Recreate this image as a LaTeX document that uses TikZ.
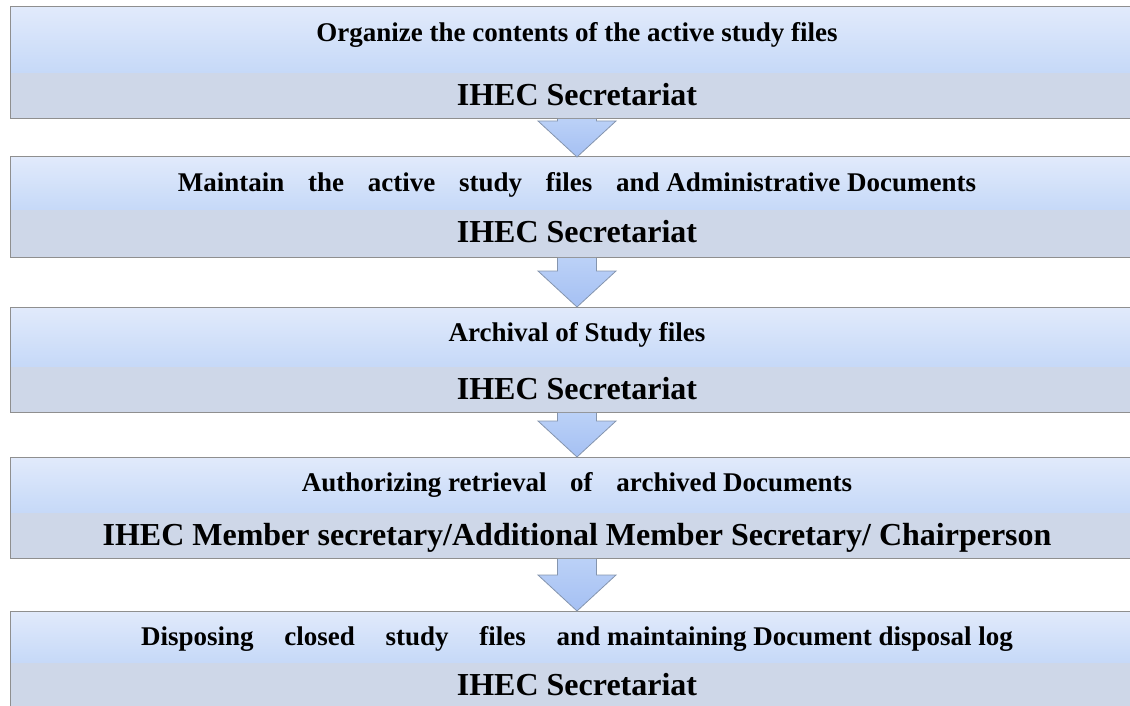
\documentclass[tikz,border=0pt]{standalone}
\usepackage{fontspec}
\setmainfont{Liberation Serif}
\usetikzlibrary{positioning,calc}
\definecolor{steptop}{HTML}{E1EAFB}
\definecolor{stepbot}{HTML}{C6D9F8}
\definecolor{whofill}{HTML}{CED7E8}
\definecolor{rim}{HTML}{8F8F8F}
\definecolor{arrowtop}{HTML}{BBD1F7}
\definecolor{arrowbot}{HTML}{A5C0F3}
\definecolor{arrowrim}{HTML}{8595AE}
\newcommand{\wgap}{\hspace{0.88em}}
\newcommand{\wwgap}{\hspace{1.14em}}
\tikzset{
  act/.style={anchor=north, minimum width=1132pt, inner sep=0pt,
    top color=steptop, bottom color=stepbot, text height=34pt,
    font=\fontsize{27}{30}\selectfont\bfseries},
  who/.style={minimum width=1132pt, inner sep=0pt, fill=whofill,
    text height=33pt, font=\fontsize{32}{35}\selectfont\bfseries},
  boxrim/.style={draw=rim, line width=1pt},
  blockarrow/.style={draw=arrowrim, line width=0.8pt,
    top color=arrowtop, bottom color=arrowbot}
}

\begin{document}
\begin{tikzpicture}[x=1pt,y=-1pt]
    \useasboundingbox (0,0) rectangle (1130,706);
    \clip (0,0) rectangle (1130,706);
    % set up the nodes
    \node[act, text depth=31pt] (act1) at (577,7) {Organize the contents of the active study files};
    \node[who, text depth=13pt, below=0pt of act1] (who1) {IHEC Secretariat};

    \node[act, text depth=18pt] (act2) at (577,157) {Maintain\wgap the\wgap active\wgap study\wgap files\wgap and Administrative Documents};
    \node[who, text depth=15pt, below=0pt of act2] (who2) {IHEC Secretariat};

    \node[act, text depth=25pt] (act3) at (577,307) {Archival of Study files};
    \node[who, text depth=13pt, below=0pt of act3] (who3) {IHEC Secretariat};

    \node[act, text depth=21pt] (act4) at (577,457) {Authorizing retrieval\wgap of\wgap archived Documents};
    \node[who, text depth=13pt, below=0pt of act4] (who4) {IHEC Member secretary/Additional Member Secretary/ Chairperson};

    \node[act, text depth=17pt] (act5) at (577,611) {Disposing\wwgap closed\wwgap study\wwgap files\wwgap and maintaining Document disposal log};
    \node[who, text depth=15pt, below=0pt of act5] (who5) {IHEC Secretariat};
    % frame each step
    \draw[boxrim] (act1.north west) rectangle (who1.south east);
    \draw[boxrim] (act2.north west) rectangle (who2.south east);
    \draw[boxrim] (act3.north west) rectangle (who3.south east);
    \draw[boxrim] (act4.north west) rectangle (who4.south east);
    \draw[boxrim] (act5.north west) rectangle (who5.south east);
    % draw the arrows between the steps
    \path[blockarrow] ($(who1.south)+(-19.5,0)$) -- ($(act2.north)+(-19.5,-36)$) -- ($(act2.north)+(-39,-36)$) -- (act2.north)
        -- ($(act2.north)+(39,-36)$) -- ($(act2.north)+(19.5,-36)$) -- ($(who1.south)+(19.5,0)$);
    \path[blockarrow] ($(who2.south)+(-19.5,0)$) -- ($(act3.north)+(-19.5,-36)$) -- ($(act3.north)+(-39,-36)$) -- (act3.north)
        -- ($(act3.north)+(39,-36)$) -- ($(act3.north)+(19.5,-36)$) -- ($(who2.south)+(19.5,0)$);
    \path[blockarrow] ($(who3.south)+(-19.5,0)$) -- ($(act4.north)+(-19.5,-36)$) -- ($(act4.north)+(-39,-36)$) -- (act4.north)
        -- ($(act4.north)+(39,-36)$) -- ($(act4.north)+(19.5,-36)$) -- ($(who3.south)+(19.5,0)$);
    \path[blockarrow] ($(who4.south)+(-19.5,0)$) -- ($(act5.north)+(-19.5,-36)$) -- ($(act5.north)+(-39,-36)$) -- (act5.north)
        -- ($(act5.north)+(39,-36)$) -- ($(act5.north)+(19.5,-36)$) -- ($(who4.south)+(19.5,0)$);
\end{tikzpicture}
\end{document}
